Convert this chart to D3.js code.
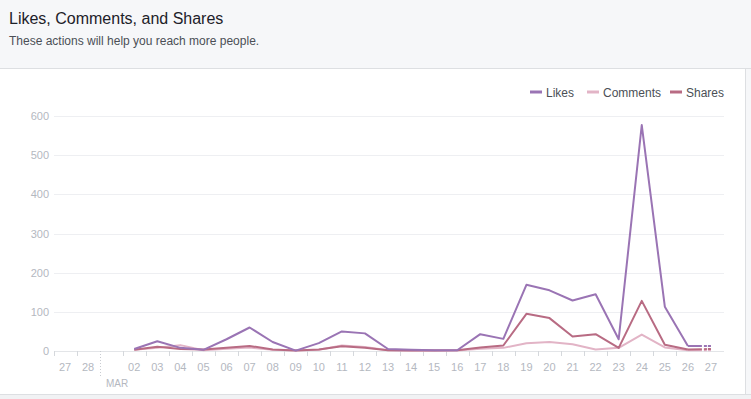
<!DOCTYPE html>
<html>
<head>
<meta charset="utf-8">
<script src="https://cdn.jsdelivr.net/npm/d3@7"></script>
<style>
  body { margin: 0; background: #f6f7f9; font-family: "Liberation Sans", Arial, sans-serif; }
  #chart { display: block; }
</style>
</head>
<body>
<svg id="chart" width="751" height="399"></svg>
<script>
  // days shown on the axis (Feb 27 .. Mar 27)
  var days = ["02-27","02-28","03-01","03-02","03-03","03-04","03-05","03-06","03-07","03-08",
              "03-09","03-10","03-11","03-12","03-13","03-14","03-15","03-16","03-17","03-18",
              "03-19","03-20","03-21","03-22","03-23","03-24","03-25","03-26","03-27"];
  var dayLabels = ["27","28","","02","03","04","05","06","07","08","09","10","11","12","13",
                   "14","15","16","17","18","19","20","21","22","23","24","25","26","27"];
  // values from Mar 2 onwards
  var dataDays = days.slice(3);
  var likes    = [5, 25, 8, 3, 30, 60, 23, 1, 20, 50, 45, 5, 3, 2, 2, 43, 31, 169, 155, 129, 145, 30, 577, 113, 13, 13];
  var comments = [3, 8, 15, 2, 6, 9, 3, 1, 3, 14, 10, 2, 1, 1, 1, 6, 8, 20, 23, 17, 4, 8, 42, 9, 2, 2];
  var shares   = [3, 11, 5, 4, 8, 13, 4, 1, 4, 12, 8, 2, 1, 1, 2, 9, 14, 95, 84, 37, 43, 8, 128, 16, 4, 5];
  var yTicks = [0, 100, 200, 300, 400, 500, 600];

  var series = [
    {name: "Comments", values: comments, color: "#e2b4c6"},
    {name: "Shares",   values: shares,   color: "#b86b83"},
    {name: "Likes",    values: likes,    color: "#9a74b4"}
  ];
  var legendOrder = ["Likes", "Comments", "Shares"];

  var svg = d3.select("#chart");

  // header band
  svg.append("rect").attr("x", 0).attr("y", 0).attr("width", 751).attr("height", 68).attr("fill", "#f6f7f9");
  svg.append("text").attr("x", 9).attr("y", 24).text("Likes, Comments, and Shares")
     .attr("font-size", 16).attr("fill", "#1d2129");
  svg.append("text").attr("x", 9).attr("y", 45).text("These actions will help you reach more people.")
     .attr("font-size", 12).attr("fill", "#4b4f56");

  // white panel (top and right borders only)
  svg.append("rect").attr("x", 0).attr("y", 68).attr("width", 745).attr("height", 326).attr("fill", "#fff");
  svg.append("line").attr("x1", 0).attr("x2", 751).attr("y1", 68.5).attr("y2", 68.5).attr("stroke", "#dddfe2");
  svg.append("line").attr("x1", 745.5).attr("x2", 745.5).attr("y1", 68).attr("y2", 394).attr("stroke", "#dddfe2");
  svg.append("rect").attr("x", 0).attr("y", 394).attr("width", 751).attr("height", 5).attr("fill", "#f1f2f4");
  svg.append("line").attr("x1", 0).attr("x2", 751).attr("y1", 394.5).attr("y2", 394.5).attr("stroke", "#dddfe2");

  var x = d3.scaleBand().domain(days).range([53.5, 722.5]);
  var y = d3.scaleLinear().domain([0, 600]).range([351, 116]);

  // gridlines + y labels
  var yAxis = d3.axisLeft(y).tickValues(yTicks).tickSize(-670).tickPadding(5);
  var gy = svg.append("g").attr("transform", "translate(54,0)").call(yAxis);
  gy.select(".domain").remove();
  gy.selectAll(".tick line").attr("stroke", "#eeeff2").attr("shape-rendering", "crispEdges");
  gy.selectAll(".tick text").attr("fill", "#b4b8bf").attr("font-size", 11)
    .attr("font-family", "Liberation Sans, Arial, sans-serif");

  // x axis baseline
  svg.append("line").attr("x1", 54).attr("x2", 724).attr("y1", 351.5).attr("y2", 351.5)
     .attr("stroke", "#e3e5e8");

  // ticks at day boundaries
  var bounds = days.slice(0, days.length - 1);
  svg.append("g").selectAll("line").data(bounds).join("line")
     .attr("x1", function(d){ return Math.round(x(d)) + 0.5; })
     .attr("x2", function(d){ return Math.round(x(d)) + 0.5; })
     .attr("y1", 351)
     .attr("y2", function(d){ return d == "03-01" ? 378 : 356; })
     .attr("stroke", function(d){ return d == "03-01" ? "#c9ccd1" : "#d5d8dc"; })
     .attr("stroke-dasharray", function(d){ return d == "03-01" ? "1,2" : null; });

  svg.append("g").selectAll("text").data(days).join("text")
     .attr("x", function(d){ return x(d) + x.bandwidth() / 2; })
     .attr("y", 371)
     .attr("text-anchor", "middle")
     .attr("font-size", 11)
     .attr("fill", "#b4b8bf")
     .text(function(d, i){ return dayLabels[i]; });

  svg.append("text").attr("x", 106).attr("y", 387).text("MAR")
     .attr("font-size", 10).attr("fill", "#b4b8bf");

  // lines
  var line = d3.line()
    .x(function(d){ return x(d[0]) + x.bandwidth() / 2; })
    .y(function(d){ return y(d[1]); });

  series.forEach(function(s){
    var pts = dataDays.map(function(d, i){ return [d, s.values[i]]; });
    var n = pts.length;
    svg.append("path").datum(pts.slice(0, n - 1)).attr("d", line)
       .attr("fill", "none").attr("stroke", s.color).attr("stroke-width", 2)
       .attr("stroke-linejoin", "round");
    svg.append("path").datum(pts.slice(n - 2)).attr("d", line)
       .attr("fill", "none").attr("stroke", s.color).attr("stroke-width", 2)
       .attr("stroke-dasharray", "14,2,3,1,4");
  });

  // legend
  var legendX = [530, 587, 670];
  var lg = svg.append("g").selectAll("g").data(legendOrder).join("g")
     .attr("transform", function(d, i){ return "translate(" + legendX[i] + ",92)"; });
  lg.append("line").attr("x1", 0).attr("x2", 12).attr("y1", 0).attr("y2", 0)
     .attr("stroke-width", 3)
     .attr("stroke", function(d){ return series.find(function(s){ return s.name == d; }).color; });
  lg.append("text").attr("x", 16).attr("y", 4.5).attr("font-size", 12).attr("fill", "#4b4f56")
     .text(function(d){ return d; });
</script>
</body>
</html>
